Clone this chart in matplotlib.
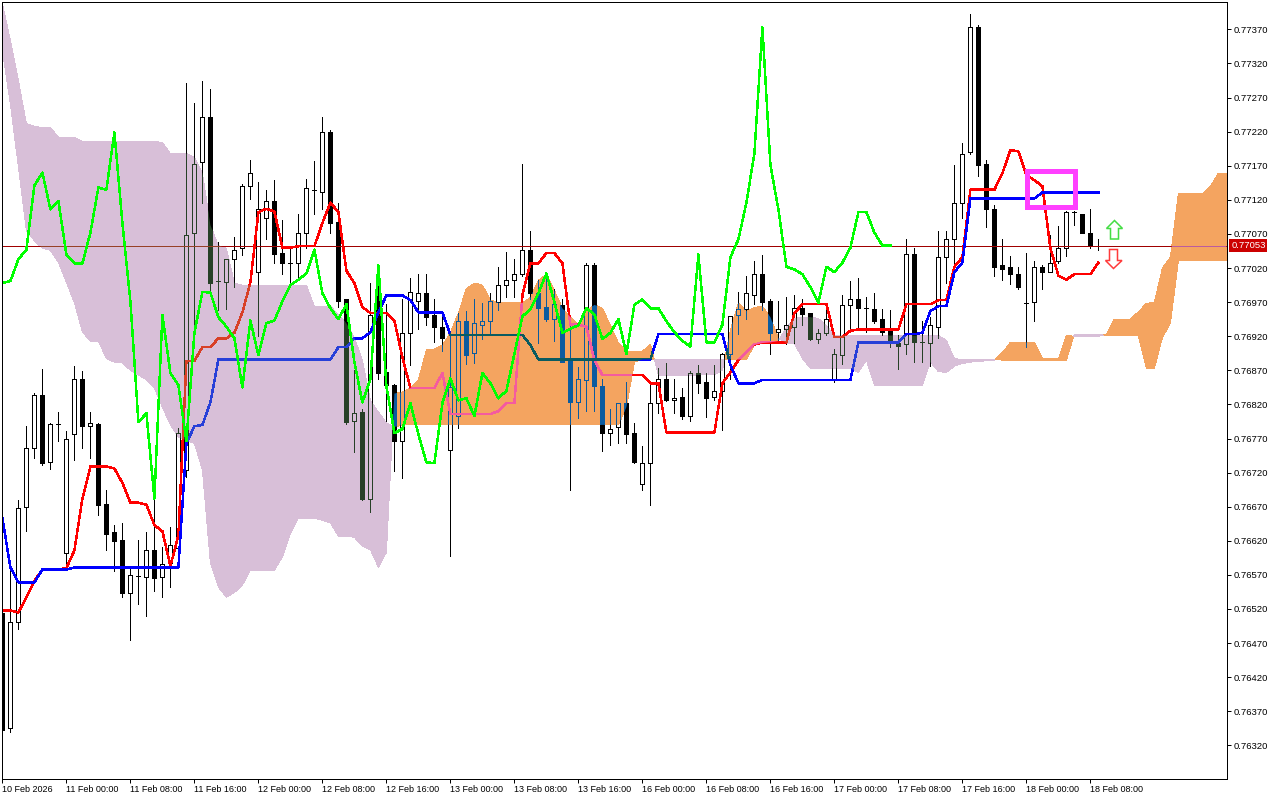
import numpy as np
import matplotlib
matplotlib.use("Agg")
import matplotlib.pyplot as plt
from matplotlib.collections import LineCollection, PolyCollection
from matplotlib.path import Path
from matplotlib.patches import Polygon, Rectangle

POINT = 1e-5
tick_labels = ["10 Feb 2026", "11 Feb 00:00", "11 Feb 08:00", "11 Feb 16:00", "12 Feb 00:00", "12 Feb 08:00",
               "12 Feb 16:00", "13 Feb 00:00", "13 Feb 08:00", "13 Feb 16:00", "16 Feb 00:00", "16 Feb 08:00",
               "16 Feb 16:00", "17 Feb 00:00", "17 Feb 08:00", "17 Feb 16:00", "18 Feb 00:00", "18 Feb 08:00"]
last_price = 0.77053

opens = [76514,76345,76501,76670,76756,76834,76735,76791,76602,76776,76857,76788,76791,76674,76633,76621,76543,76568,76567,76606,
         76567,76587,76609,76724,77072,77175,77242,77001,76999,77033,77049,77141,77014,77093,77118,77042,77027,77028,77072,77135,
         77132,77220,77088,76974,76795,76809,76681,76999,76867,76848,76766,76925,76971,76984,76951,76934,76753,76803,76943,76895,
         76937,76943,76970,76995,77003,77012,77047,76984,76963,76946,76966,76884,76823,76856,77024,76847,76778,76787,76822,76778,
         76703,76734,76822,76858,76826,76831,76803,76866,76853,76831,76840,76894,76951,76960,76981,77012,76971,76926,76930,76933,
         76961,76954,76916,76925,76857,76892,76966,76975,76961,76960,76945,76929,76910,76908,77040,76911,76910,76934,77036,77063,
         77115,77190,77373,77172,77106,77025,77021,77012,76969,76970,77022,77014,77030,77050,77102,77100,77072,77053]
closes = [76342,76501,76668,76756,76834,76734,76791,76791,76770,76858,76788,76793,76673,76630,76620,76543,76570,76568,76606,76565,
          76586,76614,76778,77069,77172,77241,76998,77001,77033,77047,77141,77160,77106,77118,77040,77027,77027,77072,77138,77135,
          77219,77086,76971,76794,76807,76682,76951,76866,76848,76766,76925,76985,76984,76948,76934,76917,76845,76943,76892,76939,
          76943,76971,76995,77003,77012,77047,76983,76961,76945,76967,76882,76823,76857,77024,76847,76778,76784,76822,76776,76735,
          76734,76822,76858,76826,76829,76803,76866,76851,76829,76840,76894,76949,76960,76983,77012,76970,76925,76931,76936,76961,
          76952,76916,76925,76945,76894,76966,76974,76961,76961,76942,76926,76913,76905,77040,76911,76911,76937,77036,77062,77116,
          77188,77373,77171,77106,77022,77018,77011,76992,76969,77022,77014,77028,77050,77102,77102,77072,77053,77053]
highs = [76514,76584,76680,76788,76837,76872,76793,76809,76781,76876,76869,76809,76793,76694,76643,76646,76580,76621,76633,76684,
         76611,76640,76785,77292,77262,77295,77283,77058,77034,77065,77143,77179,77146,77135,77149,77091,77053,77100,77151,77177,
         77242,77223,77115,76975,76870,76813,76998,77022,76967,76850,76975,77005,77012,77012,76974,76954,76925,76954,76957,76975,
         76969,76984,77021,77043,77034,77172,77074,77002,77014,76989,76975,76939,76875,77027,77028,76858,76814,76822,76853,76793,
         76759,76851,76873,76881,76858,76844,76869,76878,76866,76878,76895,76949,76985,77008,77031,77039,76975,76971,76978,76981,
         76975,76954,76931,76960,76902,76981,77001,77006,76977,76983,76960,76958,76922,77062,77050,76943,76948,77075,77075,77171,
         77204,77392,77377,77179,77113,77062,77037,77022,77042,77030,77025,77069,77081,77104,77104,77100,77107,77062]
lows = [76340,76339,76490,76635,76741,76731,76725,76767,76581,76738,76756,76741,76658,76606,76575,76537,76474,76527,76509,76546,
        76537,76552,76608,76713,76922,77115,76984,76958,76960,76992,77039,77121,76920,77062,77028,77012,76995,77005,77050,77100,
        77107,77071,76963,76791,76750,76680,76662,76858,76795,76722,76712,76878,76931,76936,76911,76898,76597,76785,76879,76881,
        76916,76925,76958,76977,76977,77009,76975,76910,76943,76913,76882,76694,76800,76810,76810,76752,76760,76763,76763,76734,
        76694,76673,76807,76825,76807,76798,76795,76837,76801,76826,76782,76858,76923,76946,76967,76958,76894,76914,76908,76910,
        76936,76914,76910,76922,76853,76879,76930,76929,76926,76939,76922,76904,76872,76894,76882,76882,76876,76917,76998,77027,
        77093,77188,77155,77080,77008,77003,76996,76989,76904,76942,76989,77014,77027,77037,77083,77071,77049,77046]
tenkan = [76518,76518,76515,76537,76561,76578,76578,76578,76580,76606,
          76682,76729,76729,76729,76726,76705,76676,76676,76673,76643,
          76634,76583,76628,76884,76884,76904,76904,76917,76917,76925,
          76955,76999,77102,77107,77103,77050,77050,77052,77052,77052,
          77086,77116,77102,77016,76998,76963,76954,76954,76954,76943,
          76889,76844,76844,76844,76844,76866,76806,76806,76806,76806,
          76806,76806,76810,76822,76822,76980,77027,77027,77042,77042,
          77027,76937,76937,76934,76885,76863,76863,76863,76863,76863,
          76863,76851,76851,76779,76779,76779,76779,76779,76779,76779,
          76851,76867,76885,76897,76908,76911,76911,76911,76911,76954,
          76967,76967,76967,76967,76919,76919,76928,76930,76930,76930,
          76930,76930,76930,76967,76967,76967,76967,76973,76973,77022,
          77036,77135,77135,77135,77135,77159,77193,77191,77156,77149,
          77140,77049,77009,77003,77011,77011,77011,77028]
kijun = [76653,76581,76559,76559,76559,76578,76578,76578,76578,76581,
         76581,76581,76581,76581,76581,76581,76581,76581,76581,76581,
         76581,76581,76581,76763,76788,76790,76823,76886,76886,76886,
         76886,76886,76886,76886,76886,76886,76886,76886,76886,76886,
         76886,76886,76904,76904,76917,76917,76926,76955,76980,76980,
         76980,76973,76955,76955,76955,76955,76922,76922,76922,76922,
         76922,76922,76922,76922,76922,76922,76907,76886,76886,76886,
         76886,76886,76886,76886,76886,76886,76886,76886,76886,76886,
         76886,76886,76923,76923,76923,76923,76923,76923,76923,76923,
         76923,76878,76851,76851,76851,76856,76856,76856,76856,76856,
         76856,76856,76856,76856,76856,76856,76856,76911,76911,76911,
         76911,76911,76911,76923,76923,76925,76957,76964,76964,77014,
         77028,77122,77122,77122,77122,77122,77122,77122,77122,77122,
         77131,77131,77131,77131,77131,77131,77131,77131]
span_a = [77339,77260,77168,77075,77060,77049,77046,77028,76999,76969,
          76926,76913,76913,76887,76882,76881,76870,76863,76856,76844,
          76816,76790,76772,76767,76763,76724,76587,76552,76537,76544,
          76555,76577,76577,76577,76577,76596,76631,76653,76653,76653,
          76650,76646,76627,76627,76625,76612,76607,76581,76603,
          76836,76838,76844,76856,76900,76901,76907,76925,76954,76990,76998,
          76995,76973,76969,76969,76969,76969,76977,77002,77011,76987,
          76961,76948,76937,76957,76966,76961,76936,76910,76898,76898,76898,76908,
          76863,76863,76863,76863,76863,76863,76864,76864,76870,
          76929,76969,76957,76962,76964,76948,76917,
          76910,76910,76887,76873,76873,76873,76873,76873,76873,76867,76885,
          76848,76848,76848,76848,76848,76848,76848,76882,76868,76867,76876,76880,76882,76883,76884,76885,
          76896,76911,76911,76911,76911,76887,76887,76887,76921,
          76920,76920,76920,76920,
          76923,76945,76945,76945,76956,76968,76970,77020,77036,77129,77129,77129,77129,77140,77159,77159]
span_b = [77408,77354,77295,77232,77228,77226,77226,77212,77212,77212,
          77206,77206,77206,77206,77206,77206,77206,77206,77206,77206,
          77204,77188,77188,77188,77182,77159,77083,77053,77049,76998,
          76995,76995,76995,76995,76995,76995,76995,76995,76995,
          76964,76964,76964,76952,76939,76918,76885,76826,76809,76793,
          76787] + [76790] * 28 + [76816,76882,76886,76886] + [76886] * 12 + [
          76907,76910,76911,76913,
          76933,76946,76948,76948,76946,76936] + [76921] * 14 + [
          76914,76887,76886,76886,76886,76886,76886] + [76885] * 9 + [76923] * 4 + [76921] * 5 + [
          76873,76873,76918,76939] + [77031] * 7

o = np.array(opens) * POINT
c = np.array(closes) * POINT
h = np.array(highs) * POINT
l = np.array(lows) * POINT
ten = np.array(tenkan) * POINT
kij = np.array(kijun) * POINT
chikou = c[26:]
a = np.array(span_a) * POINT
b = np.array(span_b) * POINT
bars = np.arange(len(o))
cloud_x = np.arange(len(a))

plt.rcParams["font.family"] = ["Liberation Sans", "DejaVu Sans"]
fig = plt.figure(figsize=(12.8, 8), dpi=100, facecolor="white")
ax = fig.add_axes([2.4 / 1280, 20.6 / 800, 1225 / 1280, 777 / 800])
ax.set_xlim(0, 1225 / 8)
ax.set_ylim(0.762701, 0.774096)

orange = ax.fill_between(cloud_x, a, b, where=a >= b, interpolate=True, facecolor="#F4A460", linewidth=0, zorder=1, antialiased=False)
purple = ax.fill_between(cloud_x, a, b, where=a <= b, interpolate=True, facecolor="#D8BFD8", linewidth=0, zorder=1, antialiased=False)
orange_path = Path.make_compound_path(*orange.get_paths())
purple_path = Path.make_compound_path(*purple.get_paths())

LINE_W = 1.05


def draw_marks(zorder, black, red, blue, price, clip=None):
    wicks = []
    bodies = []
    faces = []
    half = 0.25
    for i in bars:
        top, bot = max(o[i], c[i]), min(o[i], c[i])
        wicks.append([(i, h[i]), (i, top)])
        wicks.append([(i, bot), (i, l[i])])
        bodies.append([(i - half, bot), (i + half, bot), (i + half, top), (i - half, top)])
        faces.append(black if c[i] < o[i] else "none")
    w = LineCollection(wicks, colors=black, linewidths=0.72, zorder=zorder, antialiased=False)
    p = PolyCollection(bodies, facecolors=faces, edgecolors=black, linewidths=0.72, zorder=zorder, antialiased=False)
    ax.add_collection(w)
    ax.add_collection(p)
    artists = [w, p]
    artists += ax.plot(bars, ten, color=red, lw=LINE_W, zorder=zorder + 0.1, antialiased=False)
    artists += ax.plot(bars, kij, color=blue, lw=LINE_W, zorder=zorder + 0.2, antialiased=False)
    artists.append(ax.axhline(last_price, color=price, lw=0.72, zorder=zorder + 0.05, antialiased=False))
    if clip is not None:
        for art in artists:
            art.set_clip_path(clip, ax.transData)


draw_marks(2, "#000000", "#FF0000", "#0000FF", "#A00000")
draw_marks(3, "#0B5B9F", "#F45B9F", "#0B5B60", "#BB5B9F", orange_path)
draw_marks(4, "#274027", "#D84027", "#2740D8", "#974027", purple_path)

ax.plot(bars[:len(chikou)], chikou, color="#00FF00", lw=LINE_W, zorder=6, antialiased=False)

ax.add_patch(Rectangle((128.05, 0.77109), 6.05, 0.00054, fill=False, edgecolor="#FF40FF", linewidth=3.6,
                       joinstyle="miter", zorder=7))

# arrows, placed in figure pixels
def arrow(pts, edge):
    verts = [(x / 1280, 1 - y / 800) for x, y in pts]
    fig.add_artist(Polygon(verts, closed=True, facecolor="white", edgecolor=edge, linewidth=1.1, transform=fig.transFigure, zorder=8))

arrow([(1114.5, 220.5), (1122.5, 228.5), (1118.5, 228.5), (1118.5, 239), (1110.5, 239), (1110.5, 228.5), (1106.5, 228.5)], "#44DD44")
arrow([(1109.5, 249.5), (1117.5, 249.5), (1117.5, 260.5), (1122, 260.5), (1113.5, 268.5), (1105.5, 260.5), (1109.5, 260.5)], "#FF3B3B")

ax.set_xticks(np.arange(0, 8 * len(tick_labels), 8))
ax.set_xticklabels(tick_labels, ha="left", fontsize=6.5, color="black")
ax.yaxis.tick_right()
yticks = np.arange(76320, 77371, 50) * POINT
ax.set_yticks(yticks)
ax.set_yticklabels([f"{v:.5f}" for v in yticks], fontsize=6.8, color="black")
ax.tick_params(axis="x", length=3, width=0.72, pad=0.8, color="black")
ax.tick_params(axis="y", length=3, width=0.72, pad=1.5, color="black")
for s in ax.spines.values():
    s.set_linewidth(0.72)
    s.set_color("black")
    s.set_zorder(9)

ax.text(1.0031, last_price, f"{last_price:.5f}", transform=ax.get_yaxis_transform(), va="center", ha="left",
        fontsize=6.8, color="white", zorder=10, clip_on=False,
        bbox=dict(boxstyle="square,pad=0.2", facecolor="#CC0000", edgecolor="none"))

fig.savefig("out.png", dpi=100, facecolor="white")
